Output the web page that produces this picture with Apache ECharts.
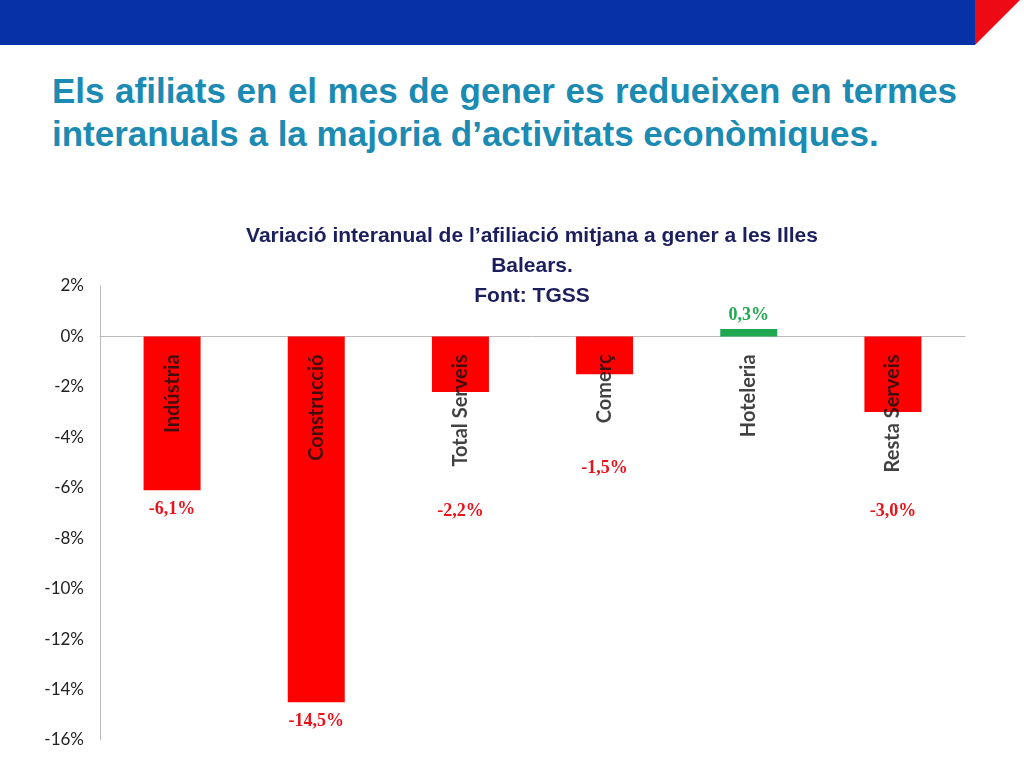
<!DOCTYPE html>
<html>
<head>
<meta charset="utf-8">
<script src="https://cdn.jsdelivr.net/npm/echarts@6/dist/echarts.min.js"></script>
<style>
  body { margin: 0; width: 1024px; height: 768px; background: #fff; overflow: hidden; position: relative; }
  #banner { position: absolute; left: 0; top: 0; width: 975px; height: 45px; background: #0532a6; }
  #corner { position: absolute; left: 975px; top: 0; width: 0; height: 0;
    border-top: 45px solid #ee0a14; border-right: 45px solid transparent; }
  #title { position: absolute; left: 52px; top: 69px; width: 905px; font: bold 35px/43px "Liberation Sans", Arial, sans-serif;
    color: #1b8bb3; text-align: justify; text-align-last: left; }
  #main { position: absolute; left: 0; top: 0; width: 1024px; height: 768px; }
</style>
</head>
<body>
<div id="banner"></div>
<div id="corner"></div>
<div id="title">Els afiliats en el mes de gener es redueixen en termes interanuals a la majoria d’activitats econòmiques.</div>
<div id="main"></div>
<script>
// dades
const categories = ['Indústria', 'Construcció', 'Total Serveis', 'Comerç', 'Hoteleria', 'Resta Serveis']
const values = [-6.1, -14.5, -2.2, -1.5, 0.3, -3.0]
const valueLabels = ['-6,1%', '-14,5%', '-2,2%', '-1,5%', '0,3%', '-3,0%']
// distancia de l'etiqueta respecte la barra
const labelDist = [10, 10, 110, 85, 5, 90]

var chart = echarts.init(document.getElementById('main'))
chart.setOption({
  animation: false,
  title: {
    text: 'Variació interanual de l’afiliació mitjana a gener a les Illes\nBalears.\nFont: TGSS',
    left: 527, top: 216, textAlign: 'center',
    textStyle: { fontFamily: 'Liberation Sans', fontWeight: 'bold', fontSize: 21, lineHeight: 30, color: '#1c1f5e' }
  },
  grid: { left: 100, right: 59, top: 286, bottom: 28, outerBoundsMode: 'none', containLabel: false },
  xAxis: {
    type: 'category', data: categories,
    axisTick: { show: false },
    axisLine: { onZero: true, lineStyle: { color: '#bbb' } },
    axisLabel: { show: false }
  },
  yAxis: {
    type: 'value', min: -16, max: 2, interval: 2,
    splitLine: { show: false },
    axisLine: { show: true, lineStyle: { color: '#bbb' } },
    axisLabel: { formatter: v => v + '%', fontFamily: 'Lato', fontSize: 17, color: '#222', margin: 16 }
  },
  series: [{
    type: 'bar', barWidth: 57,
    data: values.map((v, i) => ({
      value: v,
      itemStyle: { color: v >= 0 ? '#1fa84f' : '#fe0000' },
      label: {
        show: true, position: v >= 0 ? 'top' : 'bottom', distance: labelDist[i],
        formatter: valueLabels[i],
        fontFamily: 'Liberation Serif', fontWeight: 'bold', fontSize: 18,
        color: v >= 0 ? '#1fa84f' : '#e8141b'
      }
    }))
  }, {
    type: 'scatter', symbolSize: 0, z: 10, silent: true,
    data: categories.map(c => [c, 0]),
    label: {
      show: true, position: 'bottom', distance: 18, rotate: 90,
      align: 'right', verticalAlign: 'middle',
      formatter: p => p.name || p.value[0],
      fontFamily: 'Lato', fontWeight: 'bold', fontSize: 20, color: '#111'
    }
  }]
})
</script>
</body>
</html>
